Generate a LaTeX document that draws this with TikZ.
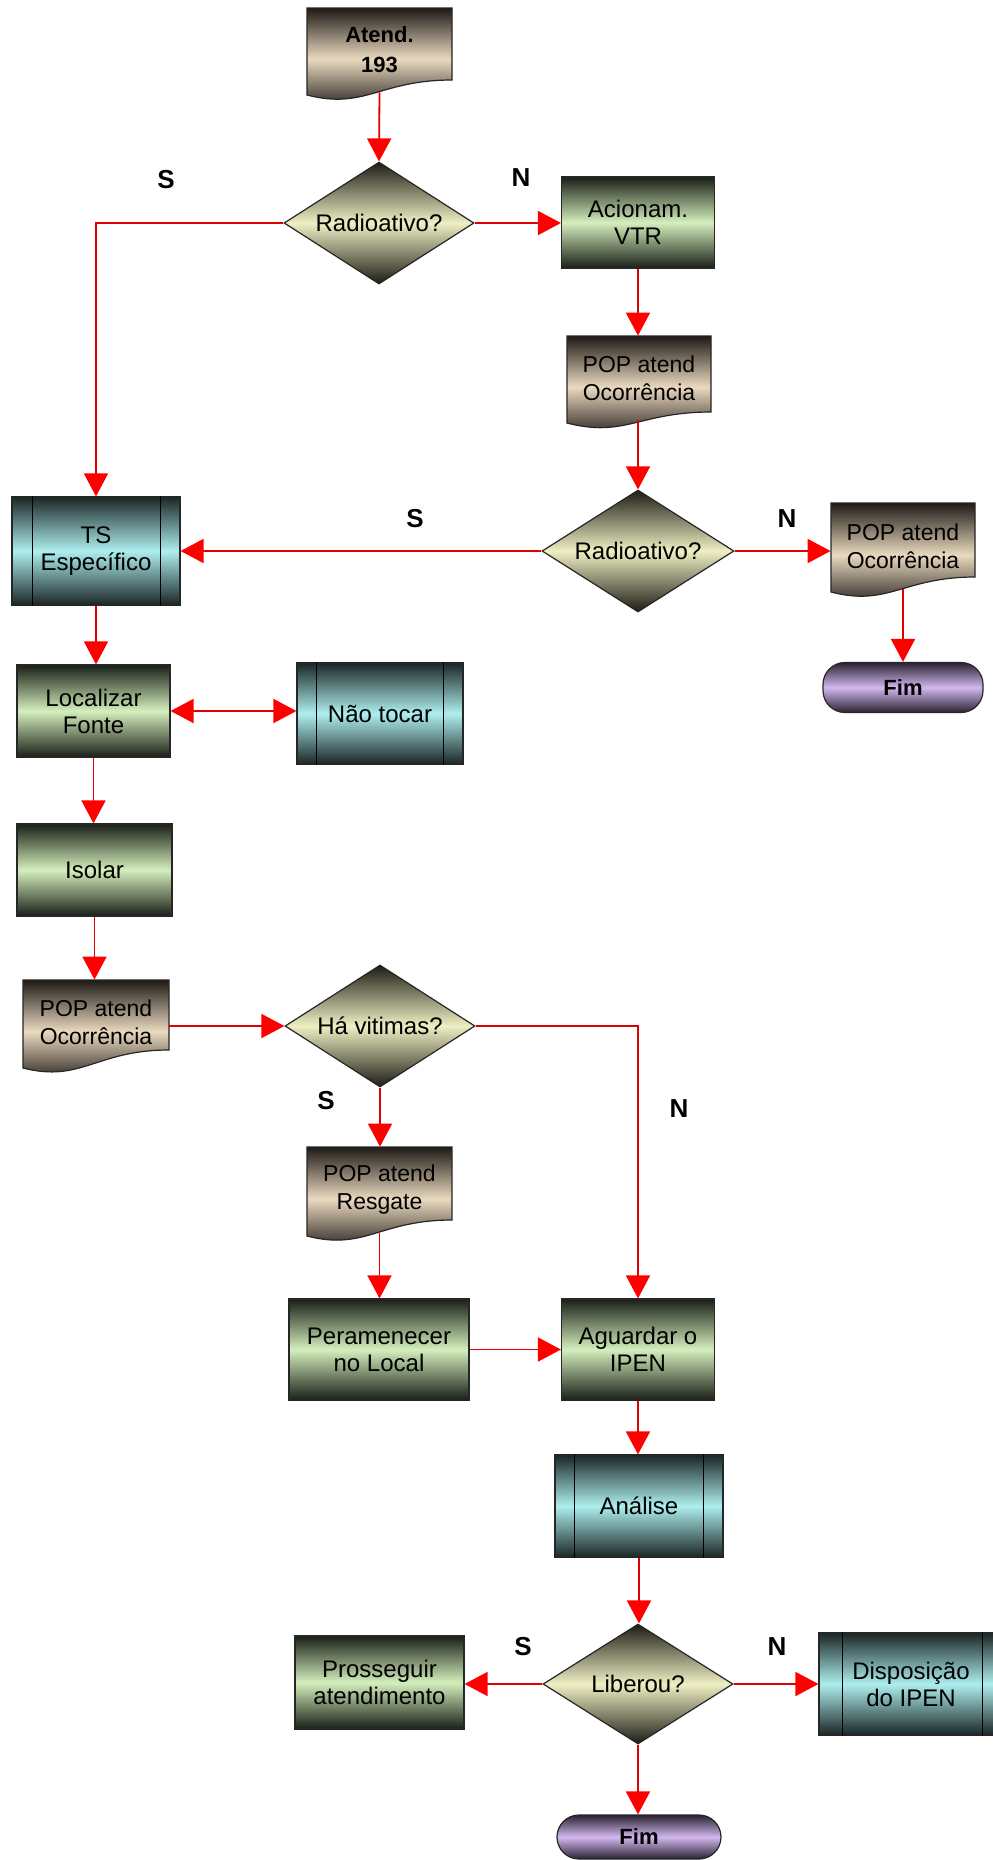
\documentclass[tikz,border=0pt]{standalone}
\usepackage{fontspec}
\setmainfont{Liberation Sans}
\usetikzlibrary{shapes.geometric,arrows.meta,calc}
\definecolor{bdark}{HTML}{1E1A16}
\definecolor{blight}{HTML}{EAD9BF}
\definecolor{gdark}{HTML}{1A1F17}
\definecolor{glight}{HTML}{D4EFBD}
\definecolor{tdark}{HTML}{1B2626}
\definecolor{tlight}{HTML}{AEEEEE}
\definecolor{ydark}{HTML}{1D1C14}
\definecolor{ylight}{HTML}{EFEFC4}
\definecolor{pdark}{HTML}{2A2232}
\definecolor{plight}{HTML}{D2B8EE}
\definecolor{linered}{HTML}{E00000}
\definecolor{tipred}{HTML}{FF0000}
\newcommand\docnode[8][]{%
  \shadedraw[draw=black!85, line width=0.6pt, top color=bdark, bottom color=bdark, middle color=blight]
    (#3,#5) -- (#4,#5) -- (#4,#6) .. controls ({(#3+#4)/2},#6) and ({#3+0.4*(#4-#3)},{#7+15}) .. (#3,#7) -- cycle;
  \node[docn, minimum width={0.5pt*(#4-#3)}, minimum height={0.5pt*(#7-3-#5)}, #1] (#2) at ({(#3+#4)/2},{(#5+#7-3)/2}) {#8};
}
\begin{document}
\begin{tikzpicture}[x=0.5pt,y=-0.5pt,
  base/.style={inner sep=0pt, align=center, font=\fontsize{12}{13.5}\selectfont, draw=black!85, line width=0.6pt},
  docn/.style={inner sep=0pt, align=center, font=\fontsize{11.5}{14}\selectfont, rectangle},
  proc/.style={base, rectangle, top color=gdark, bottom color=gdark, middle color=glight},
  predef/.style={base, rectangle, top color=tdark, bottom color=tdark, middle color=tlight},
  dec/.style={base, diamond, aspect=1.55, top color=ydark, bottom color=ydark, middle color=ylight},
  term/.style={base, rectangle, rounded corners=11pt, top color=pdark, bottom color=pdark, middle color=plight, font=\bfseries\fontsize{11}{13}\selectfont},
  lbl/.style={font=\bfseries\fontsize{13}{15}\selectfont},
  arr/.style={linered, line width=0.9pt, -{Triangle[length=11.5pt,width=12pt,color=tipred]}},
  darr/.style={linered, line width=0.9pt, {Triangle[length=11.5pt,width=12pt,color=tipred]}-{Triangle[length=11.5pt,width=12pt,color=tipred]}},
  sep/.style={black, line width=0.6pt}
]
\fill[white] (0,0) rectangle (992,1860);
\useasboundingbox (0,0) rectangle (992,1860);

% document shapes
\docnode[font=\bfseries\fontsize{11}{15}\selectfont]{atend}{307}{452}{8}{80}{95}{Atend.\\193}
\docnode{pop1}{567}{711}{336}{412}{423}{POP atend\\Ocorrência}
\docnode{pop2}{831}{975}{503}{577}{592}{POP atend\\Ocorrência}
\docnode{pop3}{23}{169}{980}{1050}{1068}{POP atend\\Ocorrência}
\docnode{resg}{307}{452}{1147}{1220}{1236}{POP atend\\Resgate}

% decisions
\node[dec, minimum width=95pt, minimum height=61pt] (d1) at (379,223) {Radioativo?};
\node[dec, minimum width=96pt, minimum height=61pt] (d2) at (638,551) {Radioativo?};
\node[dec, minimum width=95pt, minimum height=61pt] (dv) at (380,1026) {Há vitimas?};
\node[dec, minimum width=95pt, minimum height=60pt] (dl) at (638,1684) {Liberou?};

% processes
\node[proc, minimum width=76.5pt, minimum height=45.5pt] (acion) at (638,222.5) {Acionam.\\VTR};
\node[proc, minimum width=76.5pt, minimum height=46pt] (local) at (93.5,711) {Localizar\\Fonte};
\node[proc, minimum width=77.5pt, minimum height=46pt] (isolar) at (94.5,870) {Isolar};
\node[proc, minimum width=90pt, minimum height=50.5pt] (peram) at (379,1349.5) {Peramenecer\\no Local};
\node[proc, minimum width=76.5pt, minimum height=50.5pt] (aguard) at (638,1349.5) {Aguardar o\\IPEN};
\node[proc, minimum width=84.5pt, minimum height=46.5pt] (prosseg) at (379.5,1682.5) {Prosseguir\\atendimento};

% predefined processes
\node[predef, minimum width=84pt, minimum height=54pt] (ts) at (96,551) {TS\\Específico};
\draw[sep] ([xshift=10.5pt]ts.north west) -- ([xshift=10.5pt]ts.south west);
\draw[sep] ([xshift=-10pt]ts.north east) -- ([xshift=-10pt]ts.south east);
\node[predef, minimum width=83pt, minimum height=50.5pt] (nao) at (380,713.5) {Não tocar};
\draw[sep] ([xshift=10pt]nao.north west) -- ([xshift=10pt]nao.south west);
\draw[sep] ([xshift=-10pt]nao.north east) -- ([xshift=-10pt]nao.south east);
\node[predef, minimum width=84pt, minimum height=51pt] (analise) at (639,1506) {Análise};
\draw[sep] ([xshift=10pt]analise.north west) -- ([xshift=10pt]analise.south west);
\draw[sep] ([xshift=-10pt]analise.north east) -- ([xshift=-10pt]analise.south east);
\node[predef, minimum width=92pt, minimum height=51pt] (disp) at (911,1684) {Disposição\\do IPEN};
\draw[sep] ([xshift=12pt]disp.north west) -- ([xshift=12pt]disp.south west);
\draw[sep] ([xshift=-10.5pt]disp.north east) -- ([xshift=-10.5pt]disp.south east);

% terminals
\node[term, minimum width=80pt, minimum height=25pt] (fim1) at (903,687.5) {Fim};
\node[term, minimum width=82pt, minimum height=22pt] (fim2) at (639,1837) {Fim};

% connectors
\draw[arr] (atend.south) -- (d1.north);
\draw[arr] (d1.west) -| (ts.north);
\draw[arr] (d1.east) -- (d1.east -| acion.west);
\draw[arr] (acion.south) -- (acion.south |- pop1.north);
\draw[arr] (pop1.south) -- (pop1.south -| d2.north) -- (d2.north);
\draw[arr] (d2.west) -- (d2.west -| ts.east);
\draw[arr] (d2.east) -- (d2.east -| pop2.west);
\draw[arr] (pop2.south) -- (pop2.south |- fim1.north);
\draw[arr] (ts.south) -- (ts.south |- local.north);
\draw[darr] (local.east) -- (local.east -| nao.west);
\draw[arr] (local.south) -- (local.south |- isolar.north);
\draw[arr] (isolar.south) -- (isolar.south |- pop3.north);
\draw[arr] (pop3.east |- dv.west) -- (dv.west);
\draw[arr] (dv.south) -- (dv.south |- resg.north);
\draw[arr] (dv.east) -| (aguard.north);
\draw[arr] (resg.south) -- (resg.south |- peram.north);
\draw[arr] (peram.east) -- (aguard.west);
\draw[arr] (aguard.south) -- (aguard.south |- analise.north);
\draw[arr] (analise.south) -- (analise.south |- dl.north);
\draw[arr] (dl.west) -- (dl.west -| prosseg.east);
\draw[arr] (dl.east) -- (dl.east -| disp.west);
\draw[arr] (dl.south) -- (dl.south |- fim2.north);

% labels
\node[lbl] (s1) at (166,180) {S};
\node[lbl] (n1) at (521,178) {N};
\node[lbl] (s2) at (415,519) {S};
\node[lbl] (n2) at (787,519) {N};
\node[lbl] (s3) at (326,1101) {S};
\node[lbl] (n3) at (679,1109) {N};
\node[lbl] (s4) at (523,1647) {S};
\node[lbl] (n4) at (777,1647) {N};
\end{tikzpicture}
\end{document}
